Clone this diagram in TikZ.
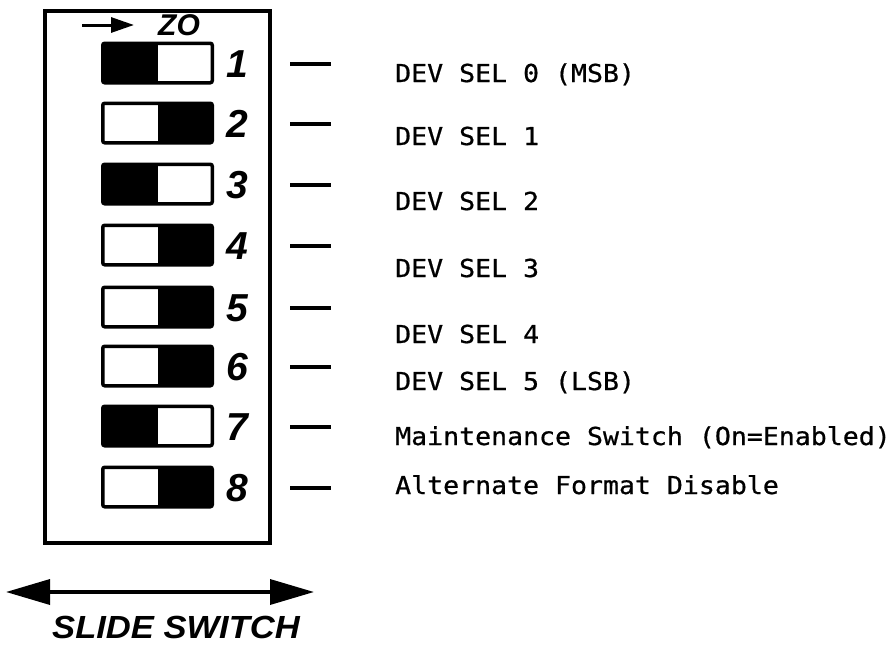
\documentclass[tikz,border=0pt]{standalone}
\usepackage{fontspec}
\usetikzlibrary{arrows.meta}
\newfontfamily\labfont[FakeStretch=1.075,FakeBold=0.7]{DejaVu Sans Mono}
\newfontfamily\handfont{Liberation Sans}
\newfontfamily\slidefont[FakeStretch=1.08]{Liberation Sans}
\begin{document}
\begin{tikzpicture}[x=1pt,y=-1pt,
  swbox/.style={line width=3.5pt,minimum width=106pt,minimum height=36pt,inner sep=0pt},
  numtxt/.style={font=\handfont\bfseries\itshape\fontsize{39}{39}\selectfont,inner sep=0pt},
  labtxt/.style={font=\labfont\fontsize{24.7}{26}\selectfont,anchor=base west,inner sep=0pt},
  dashln/.style={line width=3.5pt},
  frame/.style={line width=3.5pt}]
\useasboundingbox (0,0) rectangle (895,656);
% frame
\draw[frame] (45,11) rectangle (270,543);
% top marker
\coordinate (ta) at (82,25);
\coordinate (tb) at (134,25);
\draw[line width=3pt,-{Triangle[length=23pt,width=15pt]}] (ta) -- (tb);
\node[font=\handfont\bfseries\itshape\fontsize{30}{30}\selectfont,inner sep=0pt] (zo) at (179,25) {ZO};
% switches
\foreach \i/\y/\side in {1/63/L,2/123/R,3/184/L,4/245/R,5/307/R,6/366/R,7/426/L,8/487/R}{
  \node[swbox] (s\i) at (157.5,\y) {};
  \if\side L
    \fill (s\i.north west) rectangle (s\i.south);
  \else
    \fill (s\i.north) rectangle (s\i.south east);
  \fi
  \draw[line width=3.5pt,rounded corners=2pt] (s\i.north west) rectangle (s\i.south east);
  \node[numtxt] (n\i) at (237,\y+1) {\i};
  \coordinate (da\i) at (290,\y+1);
  \coordinate (db\i) at (331,\y+1);
  \draw[dashln] (da\i) -- (db\i);
}
% labels
\node[labtxt] (l1) at (395,82) {DEV SEL 0 (MSB)};
\node[labtxt] (l2) at (395,145) {DEV SEL 1};
\node[labtxt] (l3) at (395,210) {DEV SEL 2};
\node[labtxt] (l4) at (395,277) {DEV SEL 3};
\node[labtxt] (l5) at (395,343) {DEV SEL 4};
\node[labtxt] (l6) at (395,390) {DEV SEL 5 (LSB)};
\node[labtxt] (l7) at (395,445) {Maintenance Switch (On=Enabled)};
\node[labtxt] (l8) at (395,494) {Alternate Format Disable};
% slide switch arrow
\coordinate (aL) at (6,592);
\coordinate (aR) at (314,592);
\draw[line width=3.5pt,{Triangle[length=44pt,width=25pt]}-{Triangle[length=44pt,width=25pt]}] (aL) -- (aR);
\node[font=\slidefont\bfseries\itshape\fontsize{32}{32}\selectfont,anchor=base west,inner sep=0pt] (ss) at (52,638) {SLIDE SWITCH};
\end{tikzpicture}
\end{document}
